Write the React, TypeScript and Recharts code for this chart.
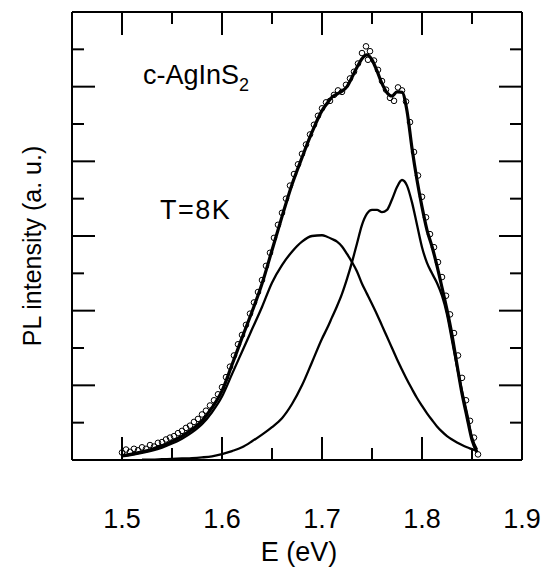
import { ComposedChart, Line, Scatter, XAxis, YAxis } from "recharts"

// photon energy grid (eV) shared by the fitted curves
const energy = [
  1.5, 1.51, 1.52, 1.53, 1.54, 1.55, 1.56, 1.57, 1.58, 1.59, 1.6, 1.61, 1.62, 1.63, 1.64, 1.65, 1.66,
  1.67, 1.68, 1.69, 1.7, 1.705, 1.71, 1.715, 1.72, 1.725, 1.73, 1.735, 1.74, 1.745, 1.75, 1.755, 1.76,
  1.765, 1.77, 1.775, 1.78, 1.785, 1.79, 1.795, 1.8, 1.805, 1.81, 1.815, 1.82, 1.825, 1.83, 1.835,
  1.84, 1.845, 1.85, 1.855
]

// total fit (thick line)
const fitTotal = [
  0.12, 0.16, 0.22, 0.29, 0.38, 0.5, 0.64, 0.82, 1.05, 1.4, 1.85, 2.55, 3.27, 3.97, 4.72, 5.62, 6.52,
  7.38, 8.1, 8.78, 9.36, 9.55, 9.72, 9.8, 9.88, 10.0, 10.25, 10.52, 10.75, 10.85, 10.72, 10.42, 10.08,
  9.84, 9.75, 9.86, 9.85, 9.35, 8.35, 7.5, 6.78, 6.16, 5.72, 5.2, 4.62, 4.02, 3.35, 2.55, 1.78, 1.15,
  0.54, 0.21
]

// low energy component (~1.695 eV)
const bandLow = [
  0.1, 0.14, 0.19, 0.25, 0.33, 0.44, 0.57, 0.74, 0.96, 1.28, 1.7, 2.3, 2.9, 3.5, 4.1, 4.75, 5.22,
  5.58, 5.85, 6.0, 6.02, 5.98, 5.92, 5.85, 5.72, 5.52, 5.3, 5.05, 4.72, 4.45, 4.18, 3.9, 3.6, 3.3, 3.0,
  2.7, 2.42, 2.15, 1.9, 1.66, 1.45, 1.25, 1.07, 0.9, 0.76, 0.64, 0.55, 0.47, 0.4, 0.34, 0.29, 0.24
]

// high energy component (~1.78 eV with shoulder)
const bandHigh = [
  null, null, 0.01, 0.01, 0.02, 0.03, 0.04, 0.05, 0.07, 0.1, 0.16, 0.24, 0.34, 0.5, 0.68, 0.88, 1.12,
  1.5, 2.0, 2.62, 3.25, 3.52, 3.82, 4.12, 4.45, 4.85, 5.3, 5.8, 6.3, 6.6, 6.7, 6.7, 6.64, 6.7, 6.98,
  7.31, 7.5, 7.35, 6.9, 6.3, 5.7, 5.28, 5.0, 4.74, 4.4, 3.9, 3.2, 2.5, 1.85, 1.25, 0.6, 0.28
]

// measured points (open circles)
const measuredE = [
  1.5, 1.504, 1.508, 1.512, 1.516, 1.52, 1.524, 1.528, 1.532, 1.536, 1.54, 1.544, 1.548, 1.552, 1.556,
  1.56, 1.564, 1.568, 1.572, 1.576, 1.58, 1.584, 1.588, 1.592, 1.596, 1.6, 1.604, 1.608, 1.612, 1.616,
  1.62, 1.624, 1.628, 1.632, 1.636, 1.64, 1.644, 1.648, 1.652, 1.656, 1.66, 1.664, 1.668, 1.672, 1.676,
  1.68, 1.684, 1.688, 1.692, 1.696, 1.7, 1.704, 1.708, 1.712, 1.716, 1.72, 1.724, 1.728, 1.732, 1.736,
  1.74, 1.744, 1.746, 1.748, 1.752, 1.756, 1.76, 1.764, 1.768, 1.772, 1.776, 1.78, 1.784, 1.788, 1.792,
  1.796, 1.8, 1.804, 1.808, 1.812, 1.816, 1.82, 1.824, 1.828, 1.832, 1.836, 1.84, 1.844, 1.848, 1.852,
  1.856
]
const measuredI = [
  0.2, 0.28, 0.22, 0.3, 0.26, 0.34, 0.3, 0.4, 0.36, 0.46, 0.48, 0.55, 0.6, 0.64, 0.72,
  0.78, 0.86, 0.92, 1.02, 1.1, 1.22, 1.32, 1.46, 1.6, 1.76, 1.95, 2.22, 2.5, 2.8, 3.1,
  3.35, 3.62, 3.92, 4.22, 4.5, 4.82, 5.2, 5.55, 5.95, 6.3, 6.62, 7.0, 7.35, 7.66, 7.92,
  8.2, 8.45, 8.72, 8.98, 9.22, 9.42, 9.58, 9.62, 9.78, 9.9, 9.86, 10.05, 10.22, 10.4, 10.62,
  10.9, 11.08, 10.72, 10.95, 10.7, 10.45, 10.15, 9.92, 9.7, 9.62, 9.98, 9.9, 9.6, 9.05, 8.25,
  7.62, 7.05, 6.5, 6.05, 5.7, 5.3, 4.9, 4.4, 3.9, 3.4, 2.8, 2.2, 1.6, 1.05, 0.6,
  0.15
]

const xTicks = [1.45, 1.5, 1.55, 1.6, 1.65, 1.7, 1.75, 1.8, 1.85, 1.9]
const yTicks = [0, 1, 2, 3, 4, 5, 6, 7, 8, 9, 10, 11, 12]

const W = 545
const H = 567
const LEFT = 72
const RIGHT = 522
const TOP = 12
const BOTTOM = 460
const FONT = "Liberation Sans, Arial, Helvetica, sans-serif"

const toRows = (ys: (number | null)[]) =>
  energy.map((x, i) => ({ x, y: ys[i] })).filter((r) => r.y !== null)

const fitRows = toRows(fitTotal)
const lowRows = toRows(bandLow)
const highRows = toRows(bandHigh)
const dotRows = measuredE.map((x, i) => ({ x, y: measuredI[i] }))

const majorX = (v: number) => Math.round(v * 100) % 10 === 0
const edgeX = (v: number) => v < 1.46 || v > 1.89

const BottomTick = (props: any) => {
  const { x, payload } = props
  const v = payload.value
  const major = majorX(v)
  return (
    <g>
      {!edgeX(v) && (
        <line x1={x} x2={x} y1={BOTTOM} y2={BOTTOM - (major ? 23 : 12)} stroke="#000" strokeWidth={2} />
      )}
      {major && (
        <text x={x} y={528} textAnchor="middle" fontSize={27} fontFamily={FONT} fill="#000">
          {v.toFixed(1)}
        </text>
      )}
    </g>
  )
}

const TopTick = (props: any) => {
  const { x, payload } = props
  const v = payload.value
  if (edgeX(v)) return <g />
  return <line x1={x} x2={x} y1={TOP} y2={TOP + (majorX(v) ? 23 : 12)} stroke="#000" strokeWidth={2} />
}

const LeftTick = (props: any) => {
  const { y, payload } = props
  const v = payload.value
  if (v === 0 || v === 12) return <g />
  return <line x1={LEFT} x2={LEFT + (v % 2 === 0 ? 23 : 12)} y1={y} y2={y} stroke="#000" strokeWidth={2} />
}

const RightTick = (props: any) => {
  const { y, payload } = props
  const v = payload.value
  if (v === 0 || v === 12) return <g />
  return <line x1={RIGHT} x2={RIGHT - (v % 2 === 0 ? 23 : 12)} y1={y} y2={y} stroke="#000" strokeWidth={2} />
}

const OpenCircle = (props: any) => (
  <circle cx={props.cx} cy={props.cy} r={2.8} fill="none" stroke="#000" strokeWidth={1} />
)

export default function App() {
  return (
    <div style={{ position: "absolute", left: 0, top: 0, width: W, height: H, background: "#fff" }}>
      <ComposedChart
        width={W}
        height={H}
        margin={{ top: TOP - 1, right: W - RIGHT - 1, left: LEFT - 1, bottom: 0 }}
      >
        <XAxis
          xAxisId="b"
          dataKey="x"
          type="number"
          domain={[1.45, 1.9]}
          allowDataOverflow
          ticks={xTicks}
          interval={0}
          tick={<BottomTick />}
          tickLine={false}
          axisLine={{ stroke: "#000", strokeWidth: 2 }}
          height={H - BOTTOM}
        />
        <XAxis
          xAxisId="t"
          dataKey="x"
          orientation="top"
          type="number"
          domain={[1.45, 1.9]}
          allowDataOverflow
          ticks={xTicks}
          interval={0}
          tick={<TopTick />}
          tickLine={false}
          axisLine={{ stroke: "#000", strokeWidth: 2 }}
          height={1}
        />
        <YAxis
          yAxisId="l"
          dataKey="y"
          type="number"
          domain={[0, 12]}
          allowDataOverflow
          ticks={yTicks}
          interval={0}
          tick={<LeftTick />}
          tickLine={false}
          axisLine={{ stroke: "#000", strokeWidth: 2 }}
          width={1}
        />
        <YAxis
          yAxisId="r"
          dataKey="y"
          orientation="right"
          type="number"
          domain={[0, 12]}
          allowDataOverflow
          ticks={yTicks}
          interval={0}
          tick={<RightTick />}
          tickLine={false}
          axisLine={{ stroke: "#000", strokeWidth: 2 }}
          width={1}
        />
        {/* invisible copy so the top/right frame axes get drawn */}
        <Line
          xAxisId="t"
          yAxisId="r"
          data={fitRows}
          dataKey="y"
          stroke="none"
          dot={false}
          activeDot={false}
          isAnimationActive={false}
        />
        <Line
          xAxisId="b"
          yAxisId="l"
          data={lowRows}
          dataKey="y"
          type="monotone"
          stroke="#000"
          strokeWidth={2.3}
          dot={false}
          isAnimationActive={false}
        />
        <Line
          xAxisId="b"
          yAxisId="l"
          data={highRows}
          dataKey="y"
          type="monotone"
          stroke="#000"
          strokeWidth={2.3}
          dot={false}
          isAnimationActive={false}
        />
        <Line
          xAxisId="b"
          yAxisId="l"
          data={fitRows}
          dataKey="y"
          type="monotone"
          stroke="#000"
          strokeWidth={3.2}
          dot={false}
          isAnimationActive={false}
        />
        <Scatter
          xAxisId="b"
          yAxisId="l"
          data={dotRows}
          dataKey="y"
          shape={<OpenCircle />}
          isAnimationActive={false}
        />
      </ComposedChart>
      <svg
        width={W}
        height={H}
        style={{ position: "absolute", left: 0, top: 0, pointerEvents: "none" }}
        fontFamily={FONT}
        fill="#000"
      >
        <text x={143} y={84} fontSize={27}>
          c-AgInS<tspan fontSize={18} dy={7}>2</tspan>
        </text>
        <text x={160} y={219} fontSize={27} letterSpacing={1.5}>
          T=8K
        </text>
        <text x={299} y={561} fontSize={27} textAnchor="middle">
          E (eV)
        </text>
        <text x={41} y={246} fontSize={25} textAnchor="middle" transform="rotate(-90 41 246)">
          PL intensity (a. u.)
        </text>
      </svg>
    </div>
  )
}
